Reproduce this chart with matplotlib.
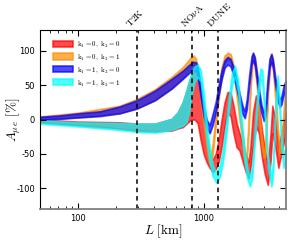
import numpy as np
import matplotlib
matplotlib.use("Agg")
import matplotlib.pyplot as plt
from matplotlib.ticker import FuncFormatter, NullFormatter

plt.rcParams['mathtext.fontset'] = 'cm'
plt.rcParams['axes.unicode_minus'] = False

# baselines [km]
exp_names = [r'$\mathrm{T2K}$', r'$\mathrm{NO}\nu\mathrm{A}$', r'$\mathrm{DUNE}$']
exp_L = [295, 810, 1300]

# k1 = 0, k2 = 0
red_L = [50, 100, 215, 295, 410, 557, 620, 682, 730, 772, 800, 848, 895, 947, 1000, 1056, 1115, 1178,
         1244, 1314, 1388, 1466, 1548, 1635, 1727, 1824, 1926, 2034, 2148, 2270, 2350, 2463, 2602, 2748,
         2902, 3065, 3237, 3400, 3513, 3711, 3919, 4139, 4371, 4500]
red_lo = [-4, -8, -13, -16, -17, -16, -13, -11, -6, -2, 0, 0, -5, -30, -50, -62, -70, -76,
          -72, -62, -40, -10, 10, 5, -20, -40, -45, -60, -75, -85, -70, -40, -10, -20,
          -55, -80, -95, -60, -20, -40, -70, -50, -30, -20]
red_hi = [0, -3, -4, -6, -6, 1, 10, 25, 42, 57, 65, 72, 70, 40, 10, -25, -50, -58,
          -50, -30, 0, 25, 40, 39, 20, -5, -20, -35, -50, -62, -40, 10, 35, 20,
          -15, -45, -65, -20, 20, 0, -40, -20, 0, 10]

# k1 = 0, k2 = 1
orange_L = [50, 100, 215, 295, 410, 557, 682, 772, 800, 830, 870, 920, 973, 1028, 1085, 1130, 1180,
            1244, 1314, 1388, 1466, 1560, 1640, 1727, 1824, 1926, 2034, 2120, 2180, 2270, 2360, 2450,
            2530, 2650, 2750, 2870, 2982, 3065, 3150, 3250, 3400, 3470, 3560, 3700, 3900, 4020, 4150,
            4300, 4500]
orange_lo = [0, 3, 9, 16, 28, 45, 60, 72, 78, 80, 72, 45, 10, -25, -55, -68, -50,
             -10, 30, 62, 82, 88, 84, 65, 35, 0, -35, -60, -68, -20, 45, 86,
             80, 45, 5, -35, -55, -55, -20, 40, 84, 85, 70, 30, -30, -52, -45,
             -5, 40]
orange_hi = [4.5, 10, 20, 30, 44, 62, 76, 88, 92, 93, 88, 62, 28, -10, -40, -55, -35,
             5, 45, 76, 93, 97, 95, 78, 50, 15, -20, -48, -58, -5, 60, 97,
             92, 60, 20, -20, -42, -45, -5, 55, 95, 96, 82, 45, -15, -40, -30,
             10, 55]

# k1 = 1, k2 = 0
blue_L = [50, 72, 100, 150, 215, 295, 410, 557, 682, 772, 820, 870, 895, 947, 1000, 1056, 1115, 1178,
          1244, 1314, 1388, 1466, 1548, 1635, 1727, 1824, 1926, 2034, 2120, 2200, 2300, 2400, 2470,
          2550, 2650, 2750, 2870, 3000, 3100, 3200, 3330, 3450, 3550, 3700, 3900, 4020, 4150, 4300, 4500]
blue_lo = [0, 1, 3, 5, 9, 16, 28, 45, 59, 68, 72, 70, 62, 32, 5, -12, -20, -8,
           10, 35, 58, 75, 80, 77, 64, 45, 25, 8, 2, 15, 50, 80, 86,
           78, 55, 30, 10, -2, 5, 40, 75, 84, 75, 50, 25, 18, 22, 35, 45]
blue_hi = [4, 6, 9, 12, 19, 28, 42, 59, 71, 80, 84, 83, 78, 48, 20, 0, -8, 8,
           25, 50, 72, 86, 91, 88, 76, 58, 38, 20, 12, 30, 65, 92, 97,
           90, 68, 45, 22, 10, 18, 55, 88, 95, 87, 62, 37, 28, 34, 48, 58]

# k1 = 1, k2 = 1
cyan_L = [50, 100, 215, 295, 410, 557, 620, 682, 730, 772, 800, 848, 895, 947, 1000, 1056, 1115, 1178,
          1260, 1350, 1427, 1507, 1591, 1680, 1775, 1874, 1980, 2090, 2208, 2333, 2430, 2531, 2674,
          2824, 2920, 3065, 3237, 3450, 3560, 3711, 3870, 3980, 4139, 4300, 4500]
cyan_lo = [-6, -10, -15, -18, -19, -15, -12, -9, -4, 15, 35, 55, 62, 55, 15, -30, -62, -82,
           -92, -82, -60, -25, 15, 50, 62, 40, -10, -55, -85, -97, -85, -40, 20,
           58, 55, 0, -70, -97, -80, 0, 48, 20, -40, -70, -60]
cyan_hi = [-1, -4, -5, -6, -6, 1, 10, 25, 43, 58, 68, 77, 80, 72, 40, -5, -40, -65,
           -78, -65, -40, -5, 35, 68, 78, 58, 10, -35, -68, -84, -68, -20, 40,
           74, 72, 20, -50, -85, -60, 20, 64, 40, -20, -50, -40]

bands = [
    (red_L, red_lo, red_hi, '#ff0000', r'$\mathrm{k}_1 = 0,\ \mathrm{k}_2 = 0$'),
    (orange_L, orange_lo, orange_hi, '#ff8c00', r'$\mathrm{k}_1 = 0,\ \mathrm{k}_2 = 1$'),
    (blue_L, blue_lo, blue_hi, '#0000ff', r'$\mathrm{k}_1 = 1,\ \mathrm{k}_2 = 0$'),
    (cyan_L, cyan_lo, cyan_hi, '#00ffff', r'$\mathrm{k}_1 = 1,\ \mathrm{k}_2 = 1$'),
]

fig = plt.figure(figsize=(3.0, 2.42), dpi=100)
ax = fig.add_axes([0.133, 0.136, 0.82, 0.74])

for L, lo, hi, c, lab in bands:
    ax.fill_between(L, lo, hi, color=c, alpha=0.7, lw=1.2, edgecolor=c, label=lab)

for L in exp_L:
    ax.axvline(L, color='k', ls=(0, (3, 2.5)), lw=1.1)

ax.set_xscale('log')
ax.set_xlim(50, 4500)
ax.set_ylim(-130, 130)
ax.set_yticks([-100, -50, 0, 50, 100])
ax.xaxis.set_major_formatter(FuncFormatter(lambda v, p: '%d' % v))
ax.xaxis.set_minor_formatter(NullFormatter())
ax.tick_params(which='both', direction='in', top=True, right=True, labelsize=6)
ax.tick_params(which='major', length=4, width=0.8)
ax.tick_params(which='minor', length=2.5, width=0.6)
ax.spines['bottom'].set_color('#808080')
ax.spines['right'].set_color('#808080')
ax.spines['bottom'].set_linewidth(1.3)
ax.spines['right'].set_linewidth(1.3)

# experiment names sit above the frame, tilted, starting just left of each line
for name, L in zip(exp_names, exp_L):
    ax.text(L * 0.9, 131, name, rotation=45, ha='left', va='bottom', fontsize=7,
            rotation_mode='anchor', transform=ax.transData)

ax.set_xlabel(r'$L\ \mathrm{[km]}$', fontsize=9.5, labelpad=0)
ax.set_ylabel(r'$A_{\mu\, e}\ \mathrm{[\%]}$', fontsize=9.5)
ax.yaxis.set_label_coords(-0.07, 0.5)

ax.legend(loc='upper left', bbox_to_anchor=(0.053, 0.945), frameon=False, fontsize=5,
          handlelength=2.9, handleheight=1.0, labelspacing=0.45, handletextpad=0.5,
          borderpad=0, borderaxespad=0)

fig.savefig('out.png', dpi=100)
